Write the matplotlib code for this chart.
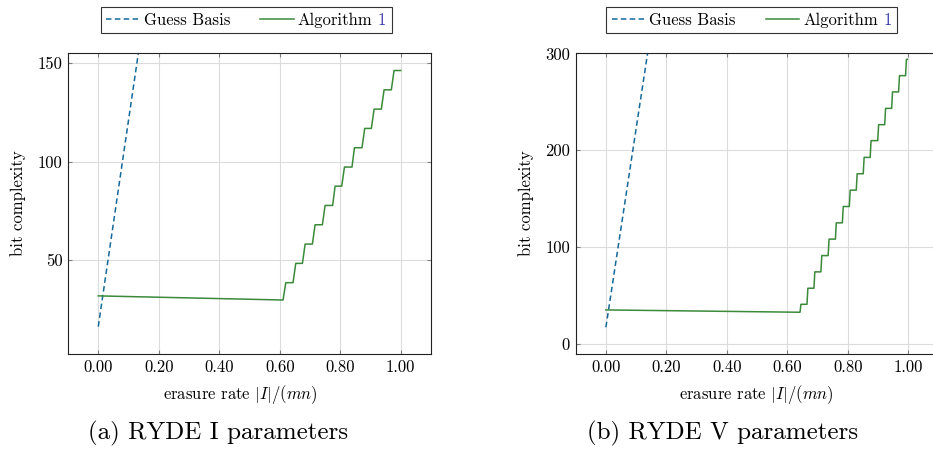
import matplotlib
matplotlib.use("Agg")
import matplotlib.pyplot as plt
from matplotlib.offsetbox import HPacker, TextArea

plt.rcParams["font.family"] = "cmr10"
plt.rcParams["mathtext.fontset"] = "cm"
plt.rcParams["axes.formatter.use_mathtext"] = True

# erasure rate ticks shared by both panels
x_ticks = [0.0, 0.2, 0.4, 0.6, 0.8, 1.0]

# RYDE I
gb_x_a = [0.0, 0.14]
gb_y_a = [16.3, 162.9]
alg_x_a = [0.0, 0.611, 0.620, 0.644, 0.653, 0.675, 0.684, 0.708, 0.717, 0.741, 0.750,
           0.775, 0.783, 0.805, 0.814, 0.839, 0.847, 0.872, 0.881, 0.903, 0.912, 0.936,
           0.945, 0.969, 0.978, 1.0]
alg_y_a = [31.9, 29.8, 38.6, 38.6, 48.4, 48.4, 58.2, 58.2, 68.0, 68.0, 77.8, 77.8, 87.6,
           87.6, 97.3, 97.3, 107.1, 107.1, 116.9, 116.9, 126.7, 126.7, 136.5, 136.5,
           146.3, 146.3]
y_ticks_a = [50, 100, 150]

# RYDE V
gb_x_b = [0.0, 0.15]
gb_y_b = [17.3, 325.1]
alg_x_b = [0.0, 0.642, 0.645, 0.665, 0.668, 0.688, 0.691, 0.711, 0.714, 0.735, 0.738,
           0.759, 0.762, 0.782, 0.785, 0.805, 0.808, 0.828, 0.831, 0.851, 0.854, 0.874,
           0.877, 0.899, 0.902, 0.922, 0.925, 0.945, 0.948, 0.968, 0.971, 0.991, 0.994,
           0.997]
alg_y_b = [35.2, 32.8, 41.0, 41.0, 57.6, 57.6, 74.5, 74.5, 91.3, 91.3, 108.3, 108.3,
           125.1, 125.1, 142.0, 142.0, 158.9, 158.9, 175.8, 175.8, 192.7, 192.7, 210.0,
           210.0, 226.5, 226.5, 243.3, 243.3, 260.3, 260.3, 277.1, 277.1, 294.0, 294.0]
y_ticks_b = [0, 100, 200, 300]

blue = "#14699a"
green = "#3a8a3a"
link_blue = "#3535a5"
fs = 12

fig = plt.figure(figsize=(9.33, 4.49), dpi=100)
ax_a = fig.add_axes([0.0729, 0.2116, 0.389, 0.6704])
ax_b = fig.add_axes([0.617, 0.2116, 0.3889, 0.6704])

panels = [
    (ax_a, gb_x_a, gb_y_a, alg_x_a, alg_y_a, y_ticks_a, (2.4, 155.2), 0.2639, 0.476,
     "(a) RYDE I parameters", 0.2333),
    (ax_b, gb_x_b, gb_y_b, alg_x_b, alg_y_b, y_ticks_b, (-10.3, 300.5), 0.8057, 0.498,
     "(b) RYDE V parameters", 0.7747),
]

for ax, gx, gy, axx, ayy, yt, ylim, leg_x, xl_x, caption, cap_x in panels:
    ax.plot(gx, gy, color=blue, lw=1.1, dashes=(3.6, 2.2), label="Guess Basis")
    ax.plot(axx, ayy, color=green, lw=1.1, label="Algorithm")
    ax.set_xlim(-0.1, 1.1)
    ax.set_ylim(*ylim)
    ax.set_xticks(x_ticks)
    ax.set_xticklabels([f"{v:.2f}" for v in x_ticks])
    ax.set_yticks(yt)
    ax.set_yticklabels([str(v) for v in yt])
    ax.grid(True, color="#dcdcdc", lw=0.8)
    ax.set_axisbelow(True)
    ax.tick_params(direction="in", length=3, width=0.8, color="#808080",
                   top=True, right=True, labelsize=fs, pad=4)
    for sp in ax.spines.values():
        sp.set_color("#222222")
        sp.set_linewidth(0.8)
    ax.set_ylabel("bit complexity", fontsize=fs)
    ax.yaxis.set_label_coords(-0.116, 0.5)
    ax.set_xlabel(r"erasure rate $|I|/(mn)$", fontsize=fs)
    ax.xaxis.set_label_coords(xl_x, -0.095)

    leg = ax.legend(loc="center", bbox_to_anchor=(leg_x, 0.9558),
                    bbox_transform=fig.transFigure, ncol=2, fontsize=fs,
                    frameon=True, fancybox=False, edgecolor="black",
                    handlelength=2.0, handletextpad=0.25, columnspacing=1.8,
                    borderpad=0.32)
    leg.get_frame().set_linewidth(0.8)

    # append the reference number "1" in link colour after "Algorithm"
    for col in leg._legend_handle_box.get_children():
        for row in col.get_children():
            kids = row.get_children()
            label_box = kids[-1]
            if label_box.get_text() == "Algorithm":
                num = TextArea("1", textprops=dict(color=link_blue, fontsize=fs))
                pair = HPacker(children=[label_box, num], sep=4, pad=0,
                               align="baseline")
                pair.set_figure(fig)
                kids[-1] = pair

    fig.text(cap_x, 0.022, caption, ha="center", va="baseline", fontsize=18)

fig.savefig("out.png", dpi=100)
